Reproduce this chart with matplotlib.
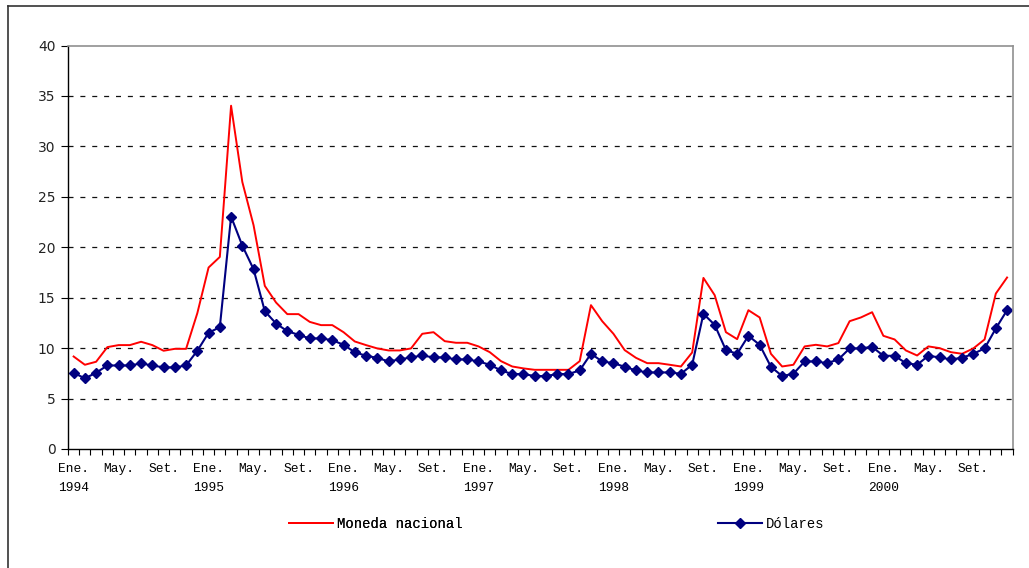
import numpy as np
import matplotlib
matplotlib.use("Agg")
import matplotlib.pyplot as plt
from matplotlib.lines import Line2D

# tasas mensuales, ene. 1994 - dic. 2000
moneda_nacional = [
    9.17, 8.35, 8.65, 10.10, 10.30, 10.30, 10.63, 10.30, 9.74, 9.93, 9.93, 13.47,
    17.99, 19.04, 34.03, 26.47, 22.18, 16.17, 14.52, 13.37, 13.37, 12.60, 12.28, 12.28,
    11.58, 10.66, 10.30, 9.97, 9.77, 9.77, 9.97, 11.42, 11.58, 10.69, 10.53, 10.53,
    10.17, 9.60, 8.71, 8.18, 7.99, 7.85, 7.85, 7.85, 7.85, 8.71, 14.26, 12.67,
    11.42, 9.80, 9.04, 8.51, 8.51, 8.35, 8.18, 9.57, 16.96, 15.25, 11.58, 10.89,
    13.76, 13.04, 9.44, 8.18, 8.35, 10.17, 10.33, 10.17, 10.50, 12.67, 13.04, 13.56,
    11.22, 10.86, 9.77, 9.27, 10.17, 10.00, 9.60, 9.44, 9.97, 10.86, 15.41, 17.00]

dolares = [
    7.56, 7.00, 7.56, 8.28, 8.28, 8.28, 8.48, 8.28, 8.09, 8.09, 8.28, 9.74,
    11.52, 12.08, 23.04, 20.16, 17.82, 13.66, 12.44, 11.68, 11.32, 10.96, 10.96, 10.79,
    10.33, 9.60, 9.24, 9.04, 8.68, 8.88, 9.08, 9.27, 9.08, 9.08, 8.88, 8.88,
    8.68, 8.35, 7.79, 7.43, 7.43, 7.23, 7.23, 7.43, 7.43, 7.79, 9.44, 8.68,
    8.51, 8.15, 7.79, 7.59, 7.59, 7.59, 7.46, 8.35, 13.40, 12.31, 9.80, 9.44,
    11.22, 10.33, 8.15, 7.23, 7.46, 8.68, 8.68, 8.51, 8.88, 9.97, 9.97, 10.13,
    9.24, 9.24, 8.51, 8.35, 9.24, 9.08, 8.88, 9.04, 9.44, 9.97, 11.95, 13.76]

anios = ["1994", "1995", "1996", "1997", "1998", "1999", "2000"]
meses = ["Ene.", "May.", "Set."]

n = len(dolares)
x = np.arange(n)

fig = plt.figure(figsize=(10.29, 5.68), dpi=100)
ax = fig.add_axes([68 / 1029, 1 - 449 / 568, (1012.7 - 68) / 1029, (449 - 45.5) / 568])

ax.plot(x, moneda_nacional, color="#ff0000", lw=1.4, label="Moneda nacional")
ax.plot(x, dolares, color="#000080", lw=1.5, marker="D", ms=5.5, label="Dólares")

ax.set_xlim(-0.5, n - 0.5)
ax.set_ylim(0, 40)
ax.set_yticks(range(0, 45, 5))
for v in range(5, 40, 5):
    ax.axhline(v, color="#111111", lw=0.9, dashes=(4, 5.5), zorder=0)

# etiquetas del eje x cada 4 meses, con el anio debajo de enero
pos = list(range(0, n, 4))
labs = []
for p in pos:
    m = meses[(p % 12) // 4]
    if p % 12 == 0:
        labs.append(m + "\n" + anios[p // 12])
    else:
        labs.append(m)
ax.set_xticks(pos)
ax.set_xticklabels(labs, family="Liberation Mono", fontsize=9.3, linespacing=1.8,
                   va="top")
ax.set_xticks(np.arange(-0.5, n, 1), minor=True)
ax.tick_params(axis="x", which="major", length=0, pad=10)
ax.tick_params(axis="x", which="minor", length=4, width=0.8, direction="out")
ax.tick_params(axis="y", length=5, width=0.8, pad=4, labelsize=10, labelcolor="#222222")

for s in ["top", "right"]:
    ax.spines[s].set_color("#909090")
    ax.spines[s].set_linewidth(1.2)
for s in ["left", "bottom"]:
    ax.spines[s].set_color("black")
    ax.spines[s].set_linewidth(1.0)

h1, h2 = ax.get_legend_handles_labels()[0]
leg1 = fig.legend([h1], ["Moneda nacional"], loc="center left",
                  bbox_to_anchor=(289 / 1029, 1 - 524 / 568), frameon=False,
                  prop={"family": "Liberation Mono", "size": 10},
                  handlelength=3.2, handletextpad=0.25, borderpad=0, borderaxespad=0)
leg2 = fig.legend([h2], ["Dólares"], loc="center left",
                  bbox_to_anchor=(718 / 1029, 1 - 524 / 568), frameon=False,
                  prop={"family": "Liberation Mono", "size": 10},
                  handlelength=3.2, handletextpad=0.25, borderpad=0, borderaxespad=0)
fig.add_artist(leg1)

# marco exterior (cortado a la derecha y abajo)
fig.add_artist(Line2D([8 / 1029, 1], [1 - 6 / 568, 1 - 6 / 568], color="#333333", lw=1.2))
fig.add_artist(Line2D([8 / 1029, 8 / 1029], [0, 1 - 6 / 568], color="#333333", lw=1.2))

fig.savefig("out.png", dpi=100)
